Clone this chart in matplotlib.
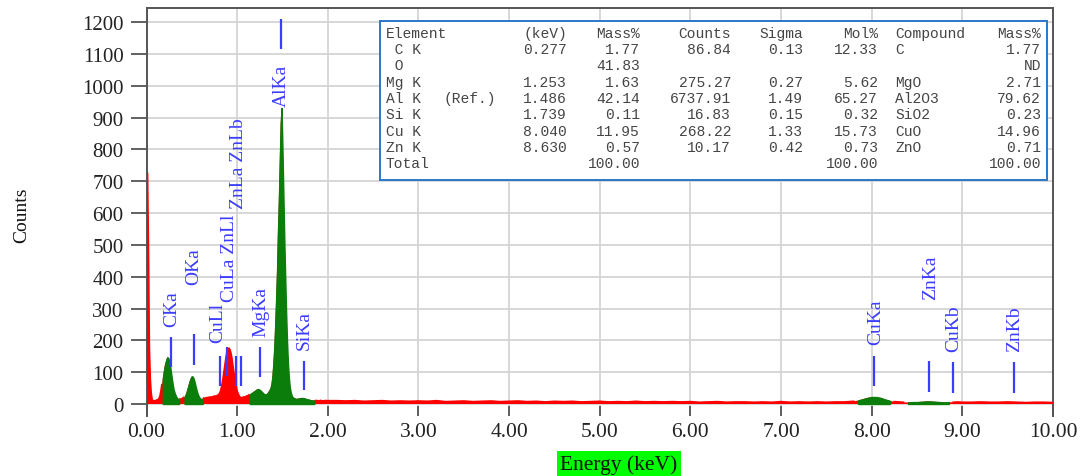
import numpy as np
import matplotlib
matplotlib.use("Agg")
import matplotlib.pyplot as plt
from matplotlib.patches import Rectangle

# ---------------- spectrum data ----------------
# 0.00 - 2.00 keV, 10 eV channels
low_counts = [
    730, 725, 490, 180, 80, 35, 15, 9, 8, 10,
    10, 12, 12, 14, 18, 25, 40, 60, 80, 100,
    118, 130, 140, 147, 145, 135, 120, 100, 80, 60,
    45, 35, 28, 22, 18, 16, 15, 15, 14, 16,
    18, 20, 22, 28, 35, 45, 55, 65, 75, 82,
    87, 86, 80, 70, 58, 46, 36, 28, 22, 18,
    16, 15, 16, 18, 17, 18, 20, 19, 20, 21,
    20, 22, 21, 22, 24, 23, 25, 24, 26, 28,
    30, 35, 42, 55, 70, 90, 110, 130, 150, 165,
    172, 175, 170, 160, 145, 125, 105, 85, 68, 52,
    40, 32, 26, 22, 20, 19, 20, 22, 21, 22,
    24, 25, 26, 28, 30, 32, 34, 36, 38, 40,
    42, 44, 46, 47, 46, 44, 42, 39, 36, 33,
    31, 30, 30, 32, 36, 40, 45, 52, 65, 90,
    130, 180, 250, 330, 420, 540, 640, 760, 880, 930,
    800, 660, 520, 400, 290, 200, 130, 85, 55, 38,
    28, 22, 20, 18, 17, 16, 16, 17, 17, 18,
    18, 19, 19, 18, 18, 17, 16, 15, 14, 14,
    13, 12, 12, 11, 11, 10, 10, 11, 9, 10,
    10, 9, 11, 10, 9, 10, 9, 10, 11, 9, 10,
]
# 2.1 - 7.6 keV, 100 eV channels
mid_counts = [
    10, 9, 10, 8, 9, 10, 8, 9, 8, 9,
    8, 10, 7, 8, 9, 7, 8, 9, 7, 8,
    9, 7, 8, 6, 8, 7, 8, 6, 7, 8,
    6, 7, 6, 8, 6, 7, 6, 7, 6, 7,
    5, 6, 7, 5, 6, 6, 5, 6, 5, 7,
    5, 6, 5, 6, 5, 6,
]
# 7.65 - 9.00 keV, 50 eV channels (Cu K / Zn K region)
cu_zn_counts = [
    6, 6, 7, 8, 11, 15, 19, 22, 22, 19,
    14, 10, 7, 6, 5, 5, 6, 6, 7, 8,
    8, 7, 6, 5, 6, 5, 6, 5,
]
# 9.1 - 10.0 keV, 100 eV channels
tail_counts = [5, 6, 5, 5, 6, 5, 4, 5, 5, 4]

low_energy = np.round(np.arange(len(low_counts)) * 0.01, 3)
mid_energy = np.round(2.1 + np.arange(len(mid_counts)) * 0.1, 3)
cu_zn_energy = np.round(7.65 + np.arange(len(cu_zn_counts)) * 0.05, 3)
tail_energy = np.round(9.1 + np.arange(len(tail_counts)) * 0.1, 3)

# energy windows of the identified peaks (keV)
peak_windows = [(0.18, 0.36), (0.42, 0.62), (1.14, 1.85), (7.83, 8.22), (8.40, 8.87)]

# line markers: label, energy (keV)
marker_names = ["CKa", "OKa", "CuLl", "CuLa", "ZnLa", "ZnLb", "MgKa", "AlKa",
                "SiKa", "CuKa", "ZnKa", "CuKb", "ZnKb"]
marker_energy = [0.27, 0.52, 0.81, 0.89, 0.99, 1.04, 1.253, 1.486,
                 1.739, 8.03, 8.63, 8.90, 9.57]

# peak labels: text, energy (keV)
label_text = ["CKa", "OKa", "CuLl", "CuLa ZnLl", "ZnLa ZnLb", "MgKa", "AlKa",
              "SiKa", "CuKa", "ZnKa", "CuKb", "ZnKb"]
label_energy = [0.28, 0.52, 0.79, 0.92, 1.01, 1.26, 1.486,
                1.74, 8.04, 8.65, 8.91, 9.58]

# quantification table
tbl_element = [" C K", " O", "Mg K", "Al K", "Si K", "Cu K", "Zn K", "Total"]
tbl_kev = ["0.277", "", "1.253", "1.486", "1.739", "8.040", "8.630", ""]
tbl_mass = ["1.77", "41.83", "1.63", "42.14", "0.11", "11.95", "0.57", "100.00"]
tbl_counts = ["86.84", "", "275.27", "6737.91", "16.83", "268.22", "10.17", ""]
tbl_sigma = ["0.13", "", "0.27", "1.49", "0.15", "1.33", "0.42", ""]
tbl_mol = ["12.33", "", "5.62", "65.27", "0.32", "15.73", "0.73", "100.00"]
tbl_compound = ["C", "", "MgO", "Al2O3", "SiO2", "CuO", "ZnO", ""]
tbl_cmass = ["1.77", "ND", "2.71", "79.62", "0.23", "14.96", "0.71", "100.00"]
tbl_header = ["Element", "(keV)", "Mass%", "Counts", "Sigma", "Mol%", "Compound", "Mass%"]

# ---------------- layout / style ----------------
W, H = 1086, 477
RED = "#ff0000"
GREEN = "#0a7d0a"
BLUE = "#3c3cff"
SPINE = "#555555"

# marker line extents (counts) and label bottoms (counts)
marker_lo = [116, 122, 57, 87, 57, 57, 85, 1116, 44, 57, 38, 35, 35]
marker_hi = [210, 220, 151, 178, 151, 151, 178, 1210, 135, 151, 135, 132, 132]
label_bottom = [245, 377, 195, 322, 615, 214, 935, 173, 188, 330, 167, 167]

plt.rcParams["font.family"] = ["Liberation Serif", "DejaVu Serif"]

fig = plt.figure(figsize=(W / 100, H / 100), dpi=100)
fig.patch.set_facecolor("white")


def fx(px):
    return px / W


def fy(py):
    return 1 - py / H


ax = fig.add_axes([fx(146.5), fy(417), fx(1053) - fx(146.5), fy(9) - fy(417)])

energy = np.concatenate([low_energy, mid_energy, cu_zn_energy, tail_energy])
counts = np.concatenate([low_counts, mid_counts, cu_zn_counts, tail_counts]).astype(float)

inside = np.zeros(energy.shape, dtype=bool)
for lo, hi in peak_windows:
    inside |= (energy >= lo) & (energy <= hi)

# full spectrum in red, outline only where no peak window is drawn over it
ax.fill_between(energy, 0, counts, facecolor=RED, edgecolor="none", lw=0, zorder=3)
red_edge = np.where(inside, np.nan, counts)
ax.plot(energy, red_edge, color=RED, lw=1.4, zorder=3)
for lo, hi in peak_windows:
    m = (energy >= lo) & (energy <= hi)
    ax.fill_between(energy[m], 0, counts[m], facecolor=GREEN, edgecolor=GREEN,
                    lw=1.0, zorder=3.5)

ax.vlines(marker_energy, marker_lo, marker_hi, colors=BLUE, lw=1.6, zorder=4)
for txt, e, b in zip(label_text, label_energy, label_bottom):
    ax.text(e, b, txt, rotation=90, ha="center", va="bottom", color=BLUE,
            fontsize=14, zorder=5)

ax.set_xlim(0, 10)
ax.set_ylim(-37.7, 1244)
ax.set_xticks(np.arange(0, 11, 1))
ax.set_xticklabels([f"{v:.2f}" for v in range(11)])
ax.set_yticks(np.arange(0, 1201, 100))
ax.grid(True, color="#d4d4d4", lw=1.3)
ax.set_axisbelow(True)

for side in ("left", "right", "top"):
    ax.spines[side].set_color(SPINE)
    ax.spines[side].set_linewidth(1.4)
    ax.spines[side].set_zorder(2.5)
ax.spines["bottom"].set_visible(False)

ax.tick_params(axis="y", direction="out", length=11.5, width=1.3, color=SPINE,
               pad=5, labelsize=15, labelcolor="#222222")
ax.tick_params(axis="x", direction="in", length=7.2, width=1.3, color=SPINE,
               pad=4, labelsize=15.5, labelcolor="#222222")

fig.text(fx(22), fy(215), "Counts", rotation=90, ha="center", va="center",
         fontsize=14, color="#111111")
fig.text(fx(619), fy(465), "Energy (keV)", ha="center", va="center",
         fontsize=15.5, color="#111111",
         bbox=dict(facecolor="#00ff00", edgecolor="none", pad=2.5))

# ---------------- quantification table ----------------
fig.patches.append(Rectangle((fx(380), fy(181)), fx(1047) - fx(380), fy(22) - fy(181),
                             transform=fig.transFigure, facecolor="white",
                             edgecolor="#2a78c8", lw=1.4, zorder=5))

mono = dict(family=["Liberation Mono", "DejaVu Sans Mono"], fontsize=10.5,
            color="#454545", va="center", zorder=6)
columns = [
    (tbl_element, 385.5, "left", tbl_header[0]),
    (tbl_kev, 567, "right", tbl_header[1]),
    (tbl_mass, 640, "right", tbl_header[2]),
    (tbl_counts, 731, "right", tbl_header[3]),
    (tbl_sigma, 803, "right", tbl_header[4]),
    (tbl_mol, 878, "right", tbl_header[5]),
    (tbl_compound, 895, "left", tbl_header[6]),
    (tbl_cmass, 1041, "right", tbl_header[7]),
]
row0, row_step = 33.8, 16.3
for values, xpx, ha, head in columns:
    fig.text(fx(xpx), fy(row0), head, ha=ha, **mono)
    for i, v in enumerate(values):
        if v:
            fig.text(fx(xpx), fy(row0 + (i + 1) * row_step), v, ha=ha, **mono)
fig.text(fx(443), fy(row0 + 4 * row_step), "(Ref.)", ha="left", **mono)

fig.savefig("out.png", dpi=100, facecolor="white")
